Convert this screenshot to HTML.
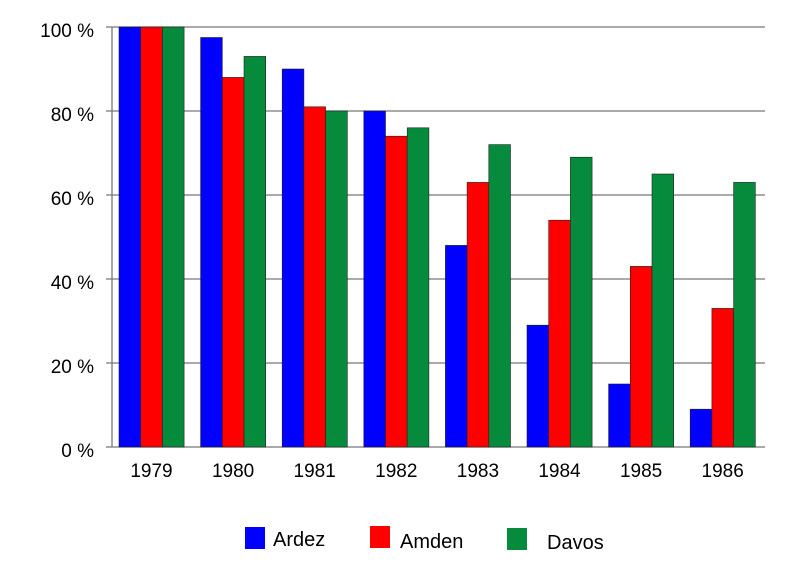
<!DOCTYPE html>
<html><head><meta charset="utf-8"><style>html,body{margin:0;padding:0;background:#fff}</style></head><body>
<svg width="800" height="561" xmlns="http://www.w3.org/2000/svg" font-family="Liberation Sans, Arial, sans-serif">
<g stroke="#777" stroke-width="1.3">
<line x1="106" y1="27" x2="765" y2="27"/>
<line x1="106" y1="111" x2="765" y2="111"/>
<line x1="106" y1="195" x2="765" y2="195"/>
<line x1="106" y1="279" x2="765" y2="279"/>
<line x1="106" y1="363" x2="765" y2="363"/>
<line x1="106" y1="447" x2="765" y2="447"/>
<line x1="112" y1="27" x2="112" y2="447"/>
</g>
<g font-size="19" text-anchor="end" fill="#000">
<text x="94" y="37">100 %</text>
<text x="94" y="121">80 %</text>
<text x="94" y="205">60 %</text>
<text x="94" y="289">40 %</text>
<text x="94" y="373">20 %</text>
<text x="94" y="457">0 %</text>
</g>
<g id="bars" stroke="#222" stroke-width="0.6"></g>
<g font-size="19" text-anchor="middle" fill="#000" id="xl"></g>
<rect x="245" y="527" width="20" height="22" fill="#0000ff"/>
<text x="273" y="546" font-size="20">Ardez</text>
<rect x="370" y="526" width="20" height="22" fill="#ff0000"/>
<text x="400" y="548" font-size="20">Amden</text>
<rect x="507" y="528" width="20" height="22" fill="#068a3c"/>
<text x="547" y="549" font-size="20">Davos</text>
<script>
var A=[100,97.5,90,80,48,29,15,9],B=[100,88,81,74,63,54,43,33],C=[100,93,80,76,72,69,65,63];
var cols=["#0000ff","#ff0000","#068a3c"],d=[A,B,C],g=document.getElementById("bars"),xl=document.getElementById("xl"),ns="http://www.w3.org/2000/svg";
for(var i=0;i<8;i++){var x0=119+i*81.6;
for(var s=0;s<3;s++){var r=document.createElementNS(ns,"rect");var h=d[s][i]*4.2;
r.setAttribute("x",x0+s*21.7);r.setAttribute("y",447-h);r.setAttribute("width",21.7);r.setAttribute("height",h);r.setAttribute("fill",cols[s]);g.appendChild(r);}
var t=document.createElementNS(ns,"text");t.setAttribute("x",x0+32.5);t.setAttribute("y",477);t.textContent=1979+i;xl.appendChild(t);}
</script>
</svg>
</body></html>
